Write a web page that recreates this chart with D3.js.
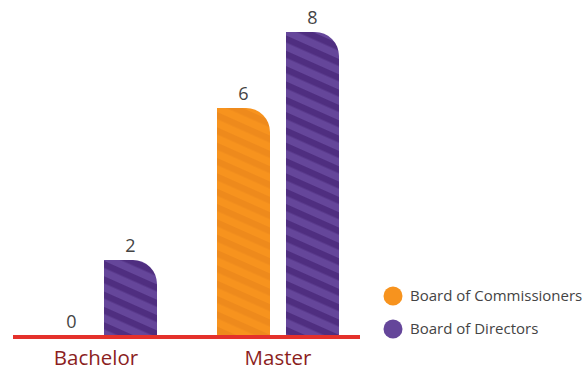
<!DOCTYPE html>
<html><head><meta charset="utf-8">
<script src="https://cdn.jsdelivr.net/npm/d3@7"></script>
<style>body{margin:0;background:#fff}svg{display:block}text{font-family:"Open Sans",sans-serif}</style>
</head><body><svg id="c" width="587" height="370"></svg>
<script>
const categories = ["Bachelor", "Master"];
const seriesNames = ["Board of Commissioners", "Board of Directors"];
const commissioners = [0, 6];
const directors = [2, 8];

const colors = ["#f7931e", "#65469a"];
const stripeColors = ["#ee8a1c", "#4f2e80"];

const svg = d3.select("#c");
const baseY = 336;
const y = d3.scaleLinear().domain([0, 8]).range([baseY, 32]);
const x0 = d3.scaleBand().domain(categories).range([35, 339]).paddingInner(60 / 182).paddingOuter(0);
const x1 = d3.scaleBand().domain(seriesNames).range([0, x0.bandwidth()]).paddingInner(16 / 69).paddingOuter(0);

const defs = svg.append("defs");
seriesNames.forEach((s, i) => {
  const p = defs.append("pattern").attr("id", "pat" + i).attr("patternUnits", "userSpaceOnUse")
    .attr("width", 14).attr("height", 14).attr("patternTransform", "rotate(24)");
  p.append("rect").attr("width", 14).attr("height", 14).attr("fill", colors[i]);
  p.append("rect").attr("width", 14).attr("height", 6.5).attr("fill", stripeColors[i]);
});

const data = [];
categories.forEach((c, ci) => {
  data.push({c, s: seriesNames[0], v: commissioners[ci], i: 0});
  data.push({c, s: seriesNames[1], v: directors[ci], i: 1});
});

function barPath(x, w, top, bottom, r) {
  const h = bottom - top;
  if (h <= 0) return "";
  r = Math.min(r, h, w);
  return `M${x},${bottom}V${top}H${x + w - r}A${r},${r} 0 0 1 ${x + w},${top + r}V${bottom}Z`;
}

const g = svg.append("g");
data.forEach(d => {
  const bx = x0(d.c) + x1(d.s), bw = x1.bandwidth();
  g.append("path").attr("d", barPath(bx, bw, y(d.v), baseY, 24)).attr("fill", `url(#pat${d.i})`);
  g.append("text").attr("x", bx + bw / 2 + (d.v === 0 ? 10 : 0)).attr("y", y(d.v) - 8)
    .attr("text-anchor", "middle").attr("font-size", 18).attr("fill", "#444").text(d.v);
});

svg.append("line").attr("x1", 13).attr("x2", 360).attr("y1", 337).attr("y2", 337)
  .attr("stroke", "#e4312b").attr("stroke-width", 4);

categories.forEach(c => {
  svg.append("text").attr("x", x0(c) + x0.bandwidth() / 2).attr("y", 365)
    .attr("text-anchor", "middle").attr("font-size", 20.5).attr("fill", "#8b1e1e").text(c);
});

const leg = svg.append("g");
seriesNames.forEach((s, i) => {
  const ly = 296 + i * 33;
  leg.append("circle").attr("cx", 393).attr("cy", ly).attr("r", 9.5).attr("fill", colors[i]);
  leg.append("text").attr("x", 410).attr("y", ly + 5).attr("font-size", 15).attr("fill", "#444").text(s);
});
</script></body></html>
